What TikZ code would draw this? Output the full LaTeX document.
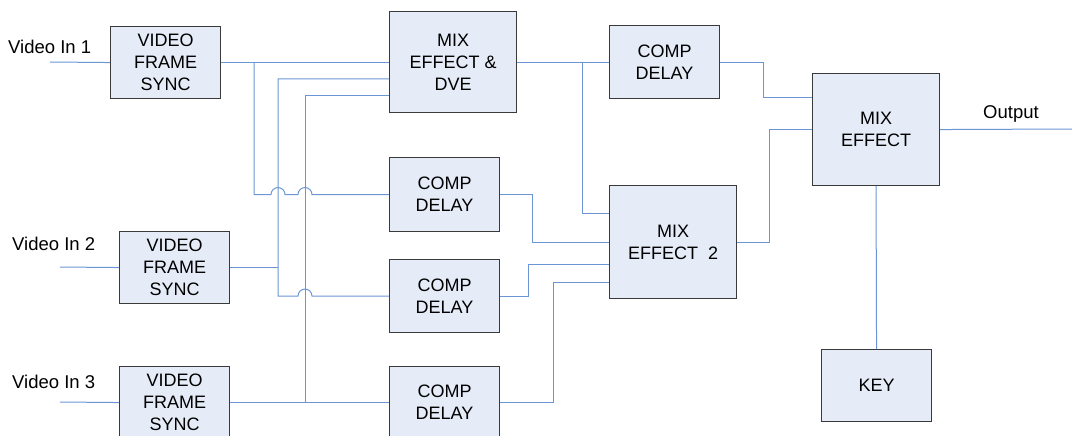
\documentclass[tikz,border=0pt]{standalone}
\usepackage{fontspec}
\setmainfont{Liberation Sans}
\definecolor{wireblue}{HTML}{6B95D4}
\definecolor{boxfill}{HTML}{E6ECF7}
\definecolor{boxline}{HTML}{3A3A3A}
\tikzset{
  blk/.style={draw=boxline, line width=1.1pt, fill=boxfill, anchor=north west,
    inner sep=0pt, align=center, font=\fontsize{18}{22}\selectfont},
  wire/.style={draw=wireblue, line width=1pt},
  lbl/.style={font=\fontsize{18.5}{22}\selectfont, inner sep=0pt}
}
\begin{document}
\begin{tikzpicture}[x=1pt,y=1pt]
\useasboundingbox (0,0) rectangle (1072,-436);

% processing blocks
\node[blk, minimum width=110, minimum height=72] (vfs1) at (110,-26) {VIDEO\\FRAME\\SYNC};
\node[blk, minimum width=110, minimum height=72] (vfs2) at (119,-231) {VIDEO\\FRAME\\SYNC};
\node[blk, minimum width=110, minimum height=72] (vfs3) at (119,-366) {VIDEO\\FRAME\\SYNC};
\node[blk, minimum width=127, minimum height=101] (dve) at (389,-11) {MIX\\EFFECT \&\\DVE};
\node[blk, minimum width=110, minimum height=74] (cda) at (389,-157) {COMP\\DELAY};
\node[blk, minimum width=110, minimum height=73] (cdb) at (389,-259) {COMP\\DELAY};
\node[blk, minimum width=110, minimum height=72] (cdc) at (389,-366) {COMP\\DELAY};
\node[blk, minimum width=110, minimum height=73] (cdt) at (609,-25) {COMP\\DELAY};
\node[blk, minimum width=127, minimum height=113] (me2) at (609,-185) {MIX\\EFFECT\ \ 2};
\node[blk, minimum width=127, minimum height=112] (me) at (812,-73) {MIX\\EFFECT};
\node[blk, minimum width=110, minimum height=72] (key) at (821,-349) {KEY};

% labels
\node[lbl, anchor=west] (l1) at (8,-47) {Video In 1};
\node[lbl, anchor=west] (l2) at (12,-244) {Video In 2};
\node[lbl, anchor=west] (l3) at (12,-382) {Video In 3};
\node[lbl, anchor=west] (lo) at (983,-114) {Output};

% free ends and ports
\coordinate (in1) at (50,-62);
\coordinate (in2) at (60,-267);
\coordinate (in3) at (60,-402);
\coordinate (out) at (1072,-129);
\coordinate (dveB) at (389,-79);
\coordinate (dveC) at (389,-96);
\coordinate (me2A) at (609,-213);
\coordinate (me2C) at (609,-264);
\coordinate (me2D) at (609,-282);
\coordinate (meA) at (812,-98);

% bends and junctions
\coordinate (j1) at (254,-62);
\coordinate (v2) at (278,-79);
\coordinate (v3) at (305,-96);
\coordinate (j4) at (582,-62);

% inputs
\draw[wire] (in1) -- (vfs1.west);
\draw[wire] (in2) -- (vfs2.west);
\draw[wire] (in3) -- (vfs3.west);

% source 1 to DVE and first delay (hopping the other feeds)
\draw[wire] (vfs1.east) -- (dve.west |- vfs1.east);
\draw[wire] (j1) -- (j1 |- cda.west) -- ++(17,0) arc (180:0:7) -- ++(13,0) arc (180:0:7) -- (cda.west);

% source 2 to DVE and second delay
\draw[wire] (vfs2.east) -- (vfs2.east -| v2);
\draw[wire] (dveB) -- (v2) -- (v2 |- cdb.west) -- ++(20,0) arc (180:0:7) -- (cdb.west);

% source 3 to DVE and third delay
\draw[wire] (vfs3.east) -- (cdc.west);
\draw[wire] (dveC) -- (v3) -- (v3 |- cdc.west);

% DVE output
\draw[wire] (dve.east) -- (cdt.west);
\draw[wire] (j4) |- (me2A);

% delays into mix effect 2
\draw[wire] (cda.east) -- ++(32,0) |- (me2.west);
\draw[wire] (cdb.east) -- ++(28,0) |- (me2C);
\draw[wire] (cdc.east) -- ++(53,0) |- (me2D);

% into final mix effect
\draw[wire] (cdt.east) -- ++(43,0) |- (meA);
\draw[wire] (me2.east) -- ++(32,0) |- (me.west);
\draw[wire] (me.east) -- (out);
\draw[wire] (me.south) -- (key.north);
\end{tikzpicture}
\end{document}
